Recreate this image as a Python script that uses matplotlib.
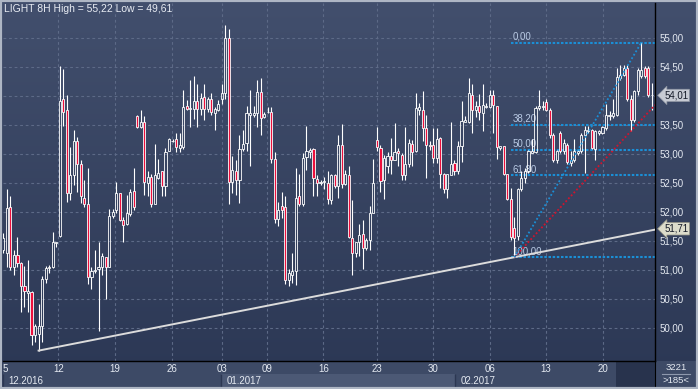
import matplotlib
matplotlib.use('Agg')
import matplotlib.pyplot as plt
import matplotlib.transforms as mtransforms
from matplotlib.patches import Rectangle
from matplotlib.colors import LinearSegmentedColormap
import numpy as np

# LIGHT (crude oil) 8H candles
opens = [51.35, 51.29, 52.09, 51.05, 51.25, 51.12, 50.72, 50.60, 50.62, 49.88,
         49.90, 50.03, 50.84, 51.04, 51.06, 51.47, 51.58, 53.94, 53.75, 52.32,
         52.64, 53.22, 52.83, 52.24, 52.13, 50.88, 50.99, 51.01, 51.05, 51.22,
         51.06, 51.93, 52.04, 52.33, 51.86, 51.80, 51.97, 52.36, 53.65, 53.47,
         53.56, 52.50, 52.61, 52.14, 52.59, 52.71, 52.44, 53.06, 53.22, 53.25,
         53.11, 53.12, 53.82, 53.77, 53.77, 53.91, 53.77, 53.98, 53.77, 53.95,
         53.70, 53.75, 53.94, 54.05, 55.00, 52.51, 52.71, 52.56, 53.09, 53.19,
         53.68, 53.67, 53.70, 54.07, 53.64, 53.72, 53.72, 52.91, 51.88, 52.10,
         52.09, 50.83, 50.92, 50.98, 52.27, 52.14, 52.95, 53.03, 53.09, 52.57,
         52.50, 52.52, 52.50, 52.21, 52.64, 52.45, 53.16, 52.48, 52.63, 51.55,
         51.29, 51.48, 51.62, 51.38, 51.52, 51.99, 53.24, 53.10, 52.55, 52.79,
         52.97, 52.90, 53.05, 52.99, 52.64, 52.82, 53.17, 53.05, 53.75, 53.76,
         53.45, 53.16, 53.15, 52.93, 53.28, 52.66, 52.40, 52.64, 52.84, 52.70,
         53.14, 53.56, 53.56, 54.02, 53.75, 53.82, 53.71, 53.81, 53.81, 54.01,
         53.83, 53.10, 53.13, 52.66, 52.22, 51.72, 51.58, 52.39, 52.59, 52.70,
         53.02, 53.03, 53.79, 53.81, 53.89, 53.76, 53.33, 52.89, 53.36, 53.05,
         53.16, 52.84, 52.89, 53.02, 53.05, 53.33, 53.39, 53.42, 53.09, 53.36,
         53.36, 53.45, 53.65, 53.66, 53.68, 54.31, 54.37, 54.48, 53.95, 53.59,
         54.08, 54.34, 54.48, 54.48, 54.02]
highs = [51.64, 52.39, 52.27, 51.35, 51.57, 51.13, 51.07, 51.18, 50.64, 50.07,
         50.42, 50.89, 51.07, 51.09, 51.65, 51.49, 54.51, 54.47, 54.02, 53.12,
         53.41, 53.30, 52.89, 52.55, 52.76, 51.06, 51.35, 51.48, 51.29, 51.22,
         52.06, 52.06, 52.52, 52.33, 51.91, 52.29, 52.40, 52.75, 53.68, 53.76,
         53.65, 52.70, 52.66, 53.18, 52.91, 52.71, 53.10, 53.28, 53.26, 53.36,
         53.36, 54.10, 53.93, 54.28, 54.35, 54.20, 54.06, 54.20, 53.98, 54.06,
         53.81, 53.93, 54.21, 55.22, 55.15, 52.96, 52.90, 53.33, 53.41, 53.83,
         54.11, 53.83, 54.28, 54.31, 53.72, 53.81, 53.81, 53.03, 52.17, 52.34,
         52.27, 51.02, 51.30, 52.76, 52.66, 53.02, 53.49, 53.10, 53.10, 52.64,
         52.55, 52.61, 52.70, 52.66, 52.66, 53.33, 53.51, 52.73, 52.79, 52.21,
         51.48, 51.80, 51.87, 51.55, 52.11, 52.91, 53.46, 53.16, 52.98, 53.03,
         53.28, 53.53, 53.10, 53.02, 53.47, 53.26, 53.24, 54.05, 53.88, 54.08,
         53.68, 53.22, 53.45, 53.45, 53.30, 52.67, 52.66, 53.55, 52.90, 53.22,
         53.91, 53.65, 54.31, 54.20, 53.91, 54.04, 54.20, 53.88, 54.11, 54.10,
         53.83, 53.14, 53.14, 52.66, 52.41, 51.92, 52.41, 52.70, 52.76, 53.07,
         53.25, 53.83, 54.11, 53.91, 53.94, 53.79, 53.36, 53.07, 53.39, 53.25,
         53.19, 53.05, 53.25, 53.07, 53.36, 53.49, 53.49, 53.43, 53.42, 53.42,
         53.49, 53.87, 53.74, 53.94, 54.48, 54.54, 54.54, 54.54, 54.02, 54.11,
         54.48, 54.92, 54.51, 54.51, 54.23]
lows = [51.29, 51.06, 51.00, 50.92, 51.05, 50.27, 50.36, 50.27, 49.71, 49.75,
        49.61, 49.75, 50.78, 50.94, 51.03, 51.40, 51.57, 53.49, 52.17, 52.21,
        52.47, 52.34, 52.16, 52.09, 50.76, 50.67, 50.95, 49.94, 50.92, 50.50,
        51.05, 51.90, 51.98, 51.84, 51.49, 51.78, 51.93, 52.03, 53.45, 53.45,
        52.30, 52.27, 52.09, 52.13, 52.57, 52.27, 52.27, 53.05, 53.20, 53.03,
        53.03, 53.09, 53.75, 53.47, 53.60, 53.47, 53.68, 53.59, 53.72, 53.68,
        53.41, 53.74, 53.87, 53.94, 52.14, 52.33, 52.30, 52.16, 53.06, 53.05,
        52.79, 53.64, 53.47, 53.33, 53.62, 53.70, 52.84, 51.81, 51.75, 51.89,
        50.76, 50.72, 50.78, 50.74, 52.10, 52.11, 52.73, 52.93, 52.28, 52.27,
        52.47, 52.39, 52.13, 52.13, 52.41, 52.24, 52.41, 52.47, 51.55, 50.92,
        51.22, 51.24, 51.01, 51.35, 51.35, 51.98, 53.06, 52.34, 52.22, 52.67,
        52.66, 52.89, 52.79, 52.55, 52.55, 52.78, 52.79, 53.03, 53.68, 53.22,
        52.59, 53.07, 52.84, 52.84, 52.41, 52.33, 52.24, 52.63, 52.64, 52.66,
        52.87, 53.56, 53.53, 53.36, 53.64, 53.59, 53.39, 53.79, 53.79, 53.36,
        52.91, 53.07, 52.64, 52.21, 51.52, 51.22, 51.52, 52.36, 52.50, 52.67,
        53.01, 53.02, 53.76, 53.76, 53.74, 53.27, 52.86, 52.84, 53.02, 53.00,
        52.83, 52.79, 52.87, 52.99, 53.02, 52.67, 53.37, 53.09, 52.90, 53.33,
        53.35, 53.42, 53.59, 53.62, 53.65, 54.28, 54.34, 53.91, 53.39, 53.56,
        54.02, 54.31, 54.31, 53.99, 53.75]
closes = [51.55, 52.07, 51.05, 51.25, 51.12, 50.72, 50.63, 50.64, 49.88, 50.03,
          50.03, 50.84, 51.04, 51.06, 51.49, 51.49, 53.92, 53.72, 52.32, 52.64,
          53.22, 52.83, 52.27, 52.13, 50.88, 50.99, 51.00, 51.06, 51.24, 51.05,
          51.93, 52.00, 52.32, 51.86, 51.78, 51.98, 52.34, 52.09, 53.47, 53.55,
          52.52, 52.61, 52.13, 52.63, 52.67, 52.44, 53.03, 53.25, 53.22, 53.12,
          53.16, 53.81, 53.78, 53.79, 53.91, 53.77, 53.97, 53.77, 53.94, 53.72,
          53.77, 53.87, 54.05, 55.00, 52.51, 52.72, 52.56, 53.09, 53.17, 53.70,
          53.70, 53.70, 54.07, 53.62, 53.69, 53.73, 52.91, 51.88, 52.03, 52.04,
          50.83, 50.95, 50.98, 52.24, 52.13, 52.93, 53.05, 53.07, 52.59, 52.50,
          52.52, 52.53, 52.22, 52.63, 52.44, 53.16, 52.48, 52.66, 51.57, 51.29,
          51.48, 51.61, 51.38, 51.52, 51.99, 52.50, 53.12, 52.53, 52.93, 52.97,
          52.90, 53.03, 53.01, 52.64, 52.82, 53.19, 53.03, 53.79, 53.81, 53.45,
          53.15, 53.13, 52.93, 53.25, 52.66, 52.40, 52.66, 52.83, 52.70, 53.14,
          53.57, 53.59, 54.05, 53.75, 53.83, 53.72, 53.85, 53.83, 54.01, 53.85,
          53.12, 53.13, 52.66, 52.22, 51.57, 51.55, 52.39, 52.59, 52.70, 53.05,
          53.05, 53.79, 53.82, 53.82, 53.76, 53.33, 52.89, 53.05, 53.05, 53.19,
          52.86, 52.90, 53.05, 53.05, 53.33, 53.42, 53.42, 53.10, 53.39, 53.39,
          53.46, 53.68, 53.68, 53.71, 54.33, 54.37, 54.48, 53.94, 53.59, 54.08,
          54.45, 54.45, 54.34, 54.02, 54.01]

# date axis (bar positions of the day separators)
day_labels = ['5', '12', '19', '26', '03', '09', '16', '23', '30', '06', '13', '20']
day_pos = [0.5, 15.6, 31.7, 47.8, 62.0, 74.9, 90.8, 106.0, 122.0, 138.1, 154.0, 170.1]
month_labels = ['12.2016', '01.2017', '02.2017']
month_start = [-0.1, 61.7, 128.2]
month_end = [61.7, 128.2, 173.9]

# fibonacci retracement
fib_labels = ['0,00', '38,20', '50,00', '61,80', '100,00']
fib_ratio = [0.0, 0.382, 0.5, 0.618, 1.0]
fib_high, fib_high_bar = 54.92, 181
fib_low, fib_low_bar = 51.22, 145

# trend lines (two anchor points each)
support_pts = [(10, 49.61), (145, 51.22)]
red_pts = [(145, 51.22), (178, 53.39)]

last_tag = '54,01'
support_tag = '51,71'

W, H = 698, 389
fig = plt.figure(figsize=(W / 100, H / 100), dpi=100)

# background gradient
bg = fig.add_axes([0, 0, 1, 1], zorder=0)
cmap = LinearSegmentedColormap.from_list('bg', ['#2b3754', '#424f6d'])
bg.imshow(np.linspace(0, 1, 256).reshape(-1, 1), aspect='auto', cmap=cmap,
          extent=[0, 1, 0, 1], origin='lower')
bg.axis('off')

ax = fig.add_axes([3 / W, 28 / H, 652 / W, 358 / H], zorder=2)
ax.set_facecolor('none')
xmin, xmax = -0.1, 184.9
ax.set_xlim(xmin, xmax)
ax.set_ylim(49.431, 55.603)

# candles
for i, (o, h, l, c) in enumerate(zip(opens, highs, lows, closes)):
    top, bot = max(o, c), min(o, c)
    ax.vlines(i, top, h, color='white', lw=0.8, zorder=3)
    ax.vlines(i, l, bot, color='white', lw=0.8, zorder=3)
    face = 'none' if c >= o else '#ec0f3c'
    ax.add_patch(Rectangle((i - 0.3, bot), 0.6, max(top - bot, 0.004),
                           fc=face, ec='white', lw=0.6, zorder=3))

# grid and scales
yt = np.arange(50.0, 55.01, 0.5)
ylabs = [f'{v:.2f}'.replace('.', ',') for v in yt]
ylabs[8] = ''  # 54,00 sits under the last-price tag
ax.set_yticks(yt)
ax.set_yticklabels(ylabs)
ax.set_xticks(day_pos)
ax.set_xticklabels(day_labels)
ax.grid(True, color='#5d6a87', ls=(0, (2.5, 2.5)), lw=0.8, zorder=1)
ax.xaxis.get_gridlines()[0].set_visible(False)
ax.yaxis.tick_right()
ax.tick_params(axis='y', length=0, pad=3.5, labelsize=7, labelcolor='#e4e9f1')
ax.tick_params(axis='x', length=0, pad=2.5, labelsize=7, labelcolor='#e4e9f1')
for lab in ax.get_yticklabels() + ax.get_xticklabels():
    lab.set_family('Liberation Sans')
for s in ['left', 'top']:
    ax.spines[s].set_visible(False)
for s in ['right', 'bottom']:
    ax.spines[s].set_color('black')
    ax.spines[s].set_linewidth(1.0)

# support line
(x0, y0), (x1, y1) = support_pts
k = (y1 - y0) / (x1 - x0)
ax.plot([x0, xmax], [y0, y0 + k * (xmax - x0)], color='#dcdcdc', lw=1.4, zorder=4)

# red dotted line
(x0, y0), (x1, y1) = red_pts
k = (y1 - y0) / (x1 - x0)
ax.plot([x0, xmax], [y0, y0 + k * (xmax - x0)], color='#d0142e', lw=1.3,
        ls=(0, (1, 1.2)), zorder=4)

# fibonacci
ax.plot([fib_low_bar, fib_high_bar], [fib_low, fib_high], color='#1b8fd6', lw=1.3,
        ls=(0, (1, 1.2)), zorder=4)
for lab, r in zip(fib_labels, fib_ratio):
    lvl = fib_high - r * (fib_high - fib_low)
    ax.plot([fib_low_bar - 1, xmax], [lvl, lvl], color='#1b8fd6', lw=1.5,
            ls=(0, (1.2, 0.8)), zorder=2)
    ax.text(fib_low_bar - 0.6, lvl + 0.02, lab, fontsize=7, color='#b9cae4',
            ha='left', va='bottom', family='Liberation Sans', zorder=2)

# price tags on the right scale
tr = mtransforms.blended_transform_factory(ax.transAxes, ax.transData)
ax.text(1.014, float(last_tag.replace(',', '.')), last_tag, transform=tr,
        fontsize=7, color='#141a28', ha='left', va='center', family='Liberation Sans',
        clip_on=False, zorder=6,
        bbox=dict(boxstyle='larrow,pad=0.12', fc='#c7cbd4', ec='#8d94a2', lw=0.5))
ax.text(1.014, float(support_tag.replace(',', '.')), support_tag, transform=tr,
        fontsize=7, color='#141a28', ha='left', va='center', family='Liberation Sans',
        clip_on=False, zorder=6,
        bbox=dict(boxstyle='larrow,pad=0.12', fc='#dcdccb', ec='#9a9a8a', lw=0.5))

# bottom date band
band = fig.add_axes([3 / W, 2 / H, 652 / W, 26 / H], zorder=1)
band.set_xlim(xmin, xmax)
band.set_ylim(0, 2)
band.add_patch(Rectangle((xmin, 0), xmax - xmin, 2, fc='#3d4a66', ec='none'))
month_colors = ['#3d4a66', '#4c5975', '#3d4a66']
for lab, s, e, col in zip(month_labels, month_start, month_end, month_colors):
    band.add_patch(Rectangle((s, 0), e - s, 1, fc=col, ec='none'))
    band.vlines(s, 0, 1, color='#2c3752', lw=1)
    band.annotate(lab, (s, 0.5), xytext=(4, 0), textcoords='offset points',
                  va='center', ha='left', fontsize=7, color='#e4e9f1',
                  family='Liberation Sans')
band.add_patch(Rectangle((month_end[-1], 0), xmax - month_end[-1], 2,
                         fc='#28334d', ec='none'))
band.set_xticks([])
band.set_yticks([])
for s in ['left', 'top', 'bottom']:
    band.spines[s].set_visible(False)
band.spines['right'].set_color('black')

# lower right info box
fig.add_artist(Rectangle((655 / W, 2 / H), 41 / W, 26 / H, transform=fig.transFigure,
                         fc='#3d4a66', ec='none', zorder=1))
fig.text(676 / W, 1 - 367 / H, '3221', ha='center', va='center', fontsize=6.8,
         color='#e4e9f1', family='Liberation Sans', zorder=3)
fig.add_artist(plt.Line2D([662 / W, 690 / W], [1 - 374 / H, 1 - 374 / H],
                          transform=fig.transFigure, color='#8e98ad', lw=0.8, zorder=3))
fig.text(676 / W, 1 - 380.5 / H, '>185<', ha='center', va='center', fontsize=6.8,
         color='#e4e9f1', family='Liberation Sans', zorder=3)

# title
fig.text(4 / W, 1 - 8.5 / H, 'LIGHT 8H High = 55,22 Low = 49,61', ha='left', va='center',
         fontsize=7.5, color='#e8ecf3', family='Liberation Sans')

# outer frame
fig.add_artist(Rectangle((0, 0), 1, 1, transform=fig.transFigure, fill=False,
                         ec='#aeb6c4', lw=3, zorder=10))

fig.savefig('out.png', dpi=100)
